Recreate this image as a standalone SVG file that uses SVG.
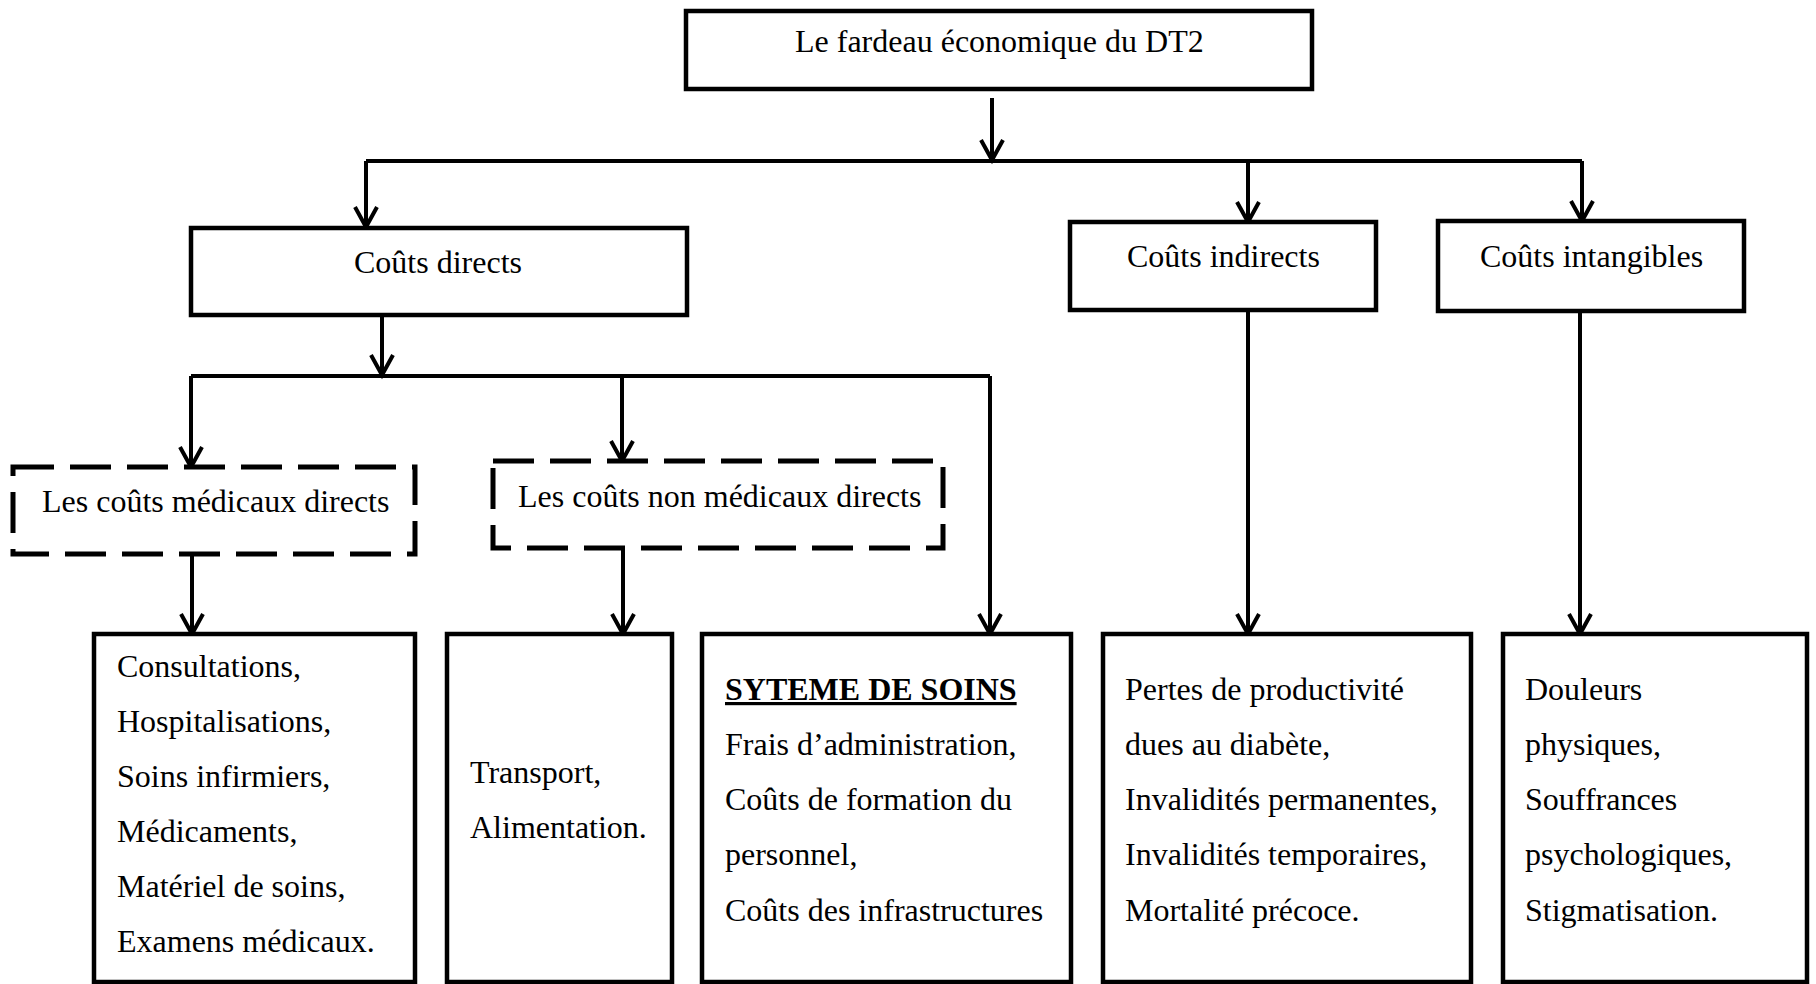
<svg xmlns="http://www.w3.org/2000/svg" width="1816" height="984" viewBox="0 0 1816 984">
<style>
  .box { fill: #ffffff; stroke: #000000; stroke-width: 4.5; }
  .dash { fill: #ffffff; stroke: #000000; stroke-width: 5; stroke-dasharray: 41 16; }
  .t { font-family: "Liberation Serif", "Times New Roman", serif; font-size: 32px; fill: #000000; }
  .b { font-weight: bold; text-decoration: underline; }
  .c { fill: none; stroke: #000000; stroke-width: 4; }
</style>
<defs>
  <marker id="arr" markerUnits="userSpaceOnUse" orient="auto" refX="0" refY="0" markerWidth="40" markerHeight="40" overflow="visible">
    <path d="M-20,-11 L0,0 L-20,11" fill="none" stroke="#000000" stroke-width="4"/>
  </marker>
</defs>
<rect width="1816" height="984" fill="#ffffff"/>

<g id="connectors">
  <path class="c" d="M366,161 H1582"/>
  <path class="c" d="M992,98 V160" marker-end="url(#arr)"/>
  <path class="c" d="M366,161 V227" marker-end="url(#arr)"/>
  <path class="c" d="M1248,161 V222" marker-end="url(#arr)"/>
  <path class="c" d="M1582,161 V221" marker-end="url(#arr)"/>
  <path class="c" d="M191,376 H990"/>
  <path class="c" d="M382,315 V375" marker-end="url(#arr)"/>
  <path class="c" d="M191,376 V467" marker-end="url(#arr)"/>
  <path class="c" d="M622,376 V461" marker-end="url(#arr)"/>
  <path class="c" d="M990,376 V634" marker-end="url(#arr)"/>
  <path class="c" d="M192,554 V634" marker-end="url(#arr)"/>
  <path class="c" d="M623,548 V634" marker-end="url(#arr)"/>
  <path class="c" d="M1248,310 V634" marker-end="url(#arr)"/>
  <path class="c" d="M1580,311 V634" marker-end="url(#arr)"/>
</g>

<g id="root">
  <rect class="box" x="686" y="11" width="626" height="78"/>
  <text class="t" x="795" y="52">Le fardeau économique du DT2</text>
</g>

<g id="couts-directs">
  <rect class="box" x="191" y="228" width="496" height="87"/>
  <text class="t" x="354" y="273">Coûts directs</text>
</g>

<g id="couts-indirects">
  <rect class="box" x="1070" y="222" width="306" height="88"/>
  <text class="t" x="1127" y="267">Coûts indirects</text>
</g>

<g id="couts-intangibles">
  <rect class="box" x="1438" y="221" width="306" height="90"/>
  <text class="t" x="1480" y="267">Coûts intangibles</text>
</g>

<g id="medicaux-directs">
  <rect class="dash" x="13" y="467" width="402" height="87"/>
  <text class="t" x="42" y="512">Les coûts médicaux directs</text>
</g>

<g id="non-medicaux-directs">
  <rect class="dash" x="493" y="461" width="450" height="87"/>
  <text class="t" x="518" y="507">Les coûts non médicaux directs</text>
</g>

<g id="liste-medicaux">
  <rect class="box" x="94" y="634" width="321" height="348"/>
  <text class="t" x="117" y="677">Consultations,</text>
  <text class="t" x="117" y="732">Hospitalisations,</text>
  <text class="t" x="117" y="787">Soins infirmiers,</text>
  <text class="t" x="117" y="842">Médicaments,</text>
  <text class="t" x="117" y="897">Matériel de soins,</text>
  <text class="t" x="117" y="952">Examens médicaux.</text>
</g>

<g id="liste-non-medicaux">
  <rect class="box" x="447" y="634" width="225" height="348"/>
  <text class="t" x="470" y="783">Transport,</text>
  <text class="t" x="470" y="838">Alimentation.</text>
</g>

<g id="systeme-soins">
  <rect class="box" x="702" y="634" width="369" height="348"/>
  <text class="t b" x="725" y="700">SYTEME DE SOINS</text>
  <text class="t" x="725" y="755">Frais d’administration,</text>
  <text class="t" x="725" y="810">Coûts de formation du</text>
  <text class="t" x="725" y="865">personnel,</text>
  <text class="t" x="725" y="921">Coûts des infrastructures</text>
</g>

<g id="liste-indirects">
  <rect class="box" x="1103" y="634" width="368" height="348"/>
  <text class="t" x="1125" y="700">Pertes de productivité</text>
  <text class="t" x="1125" y="755">dues au diabète,</text>
  <text class="t" x="1125" y="810">Invalidités permanentes,</text>
  <text class="t" x="1125" y="865">Invalidités temporaires,</text>
  <text class="t" x="1125" y="921">Mortalité précoce.</text>
</g>

<g id="liste-intangibles">
  <rect class="box" x="1503" y="634" width="304" height="348"/>
  <text class="t" x="1525" y="700">Douleurs</text>
  <text class="t" x="1525" y="755">physiques,</text>
  <text class="t" x="1525" y="810">Souffrances</text>
  <text class="t" x="1525" y="865">psychologiques,</text>
  <text class="t" x="1525" y="921">Stigmatisation.</text>
</g>
</svg>
